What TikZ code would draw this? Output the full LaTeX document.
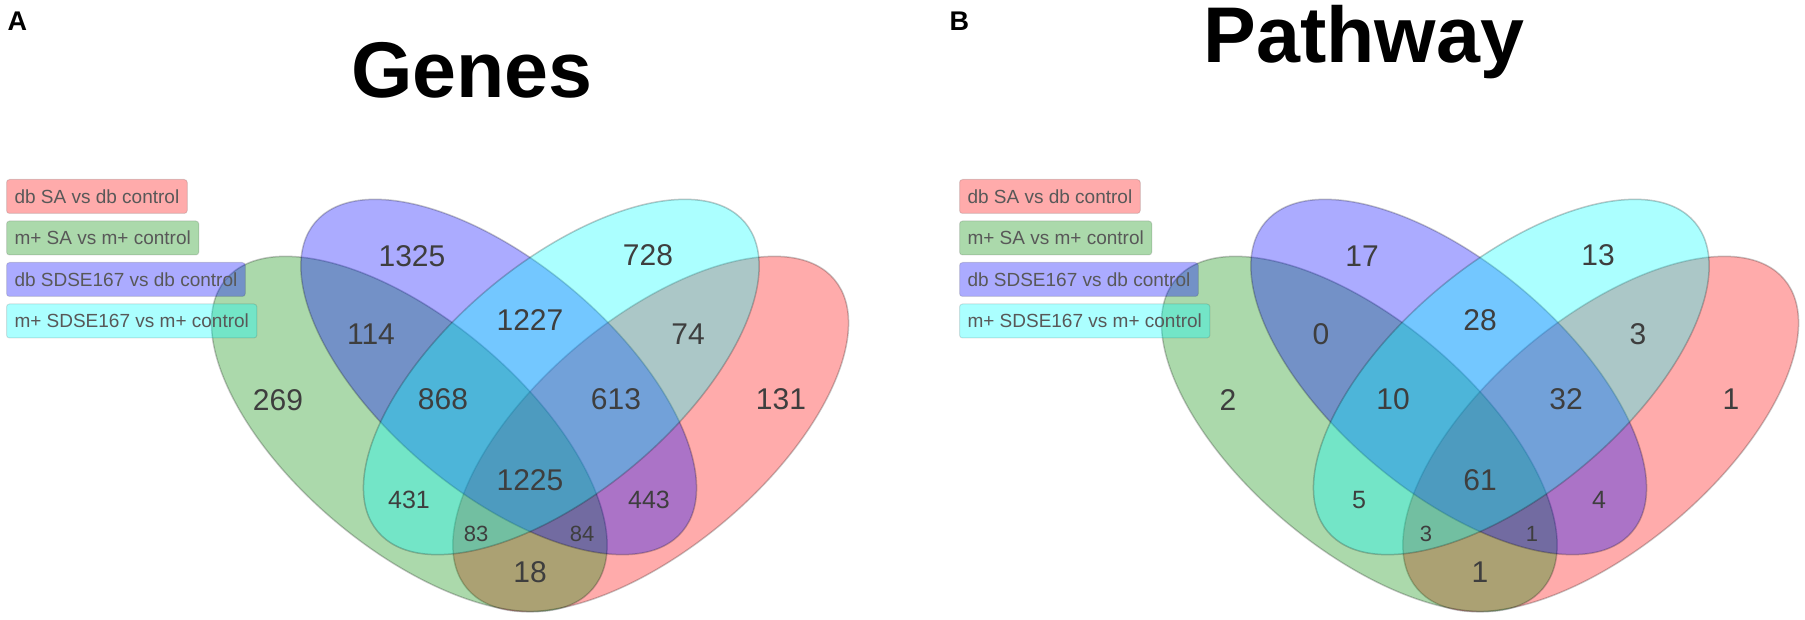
\documentclass[tikz,border=0pt]{standalone}
\usepackage{fontspec}
\setmainfont{Liberation Sans}
\usepackage{tikz}
\usetikzlibrary{
  positioning,
}
\tikzstyle{venn} = [
  fill opacity=0.33,
  draw=black,
  draw opacity=0.22,
  line width=1.5pt,
]
\tikzstyle{vcount} = [
  text=labelgray,
  font=\fontsize{30}{32}\selectfont,
]
\tikzstyle{vmidcount} = [
  text=labelgray,
  font=\fontsize{25}{27}\selectfont,
]
\tikzstyle{vsmallcount} = [
  text=labelgray,
  font=\fontsize{22}{24}\selectfont,
]
\tikzstyle{legendbox} = [
  rectangle,
  rounded corners=3pt,
  draw=black,
  draw opacity=0.12,
  line width=1pt,
  fill opacity=0.33,
  text opacity=1,
  minimum height=34pt,
  inner xsep=8pt,
  text=legendgray,
  font=\fontsize{19}{21}\selectfont,
]
\tikzstyle{vtitle} = [
  anchor=base,
  font=\fontsize{79}{84}\selectfont\bfseries,
]
\tikzstyle{panellabel} = [
  anchor=base west,
  font=\fontsize{27}{29}\selectfont\bfseries,
]
\definecolor{vennred}{RGB}{255, 0, 0}
\definecolor{venngreen}{RGB}{0, 139, 0}
\definecolor{vennblue}{RGB}{0, 0, 255}
\definecolor{venncyan}{RGB}{0, 255, 255}
\definecolor{labelgray}{RGB}{62, 62, 62}
\definecolor{legendgray}{RGB}{88, 88, 88}

\begin{document}
\begin{tikzpicture}[x=1pt, y=1pt]
      \useasboundingbox (0,0) rectangle (1805,619);

      % A -- genes
      \draw[venn, fill=vennred, rotate around={40.1:(650.7,185)}] (650.7,185) ellipse (240 and 114.4);
      \draw[venn, fill=venngreen, rotate around={-40.1:(409.3,185)}] (409.3,185) ellipse (240 and 114.4);
      \draw[venn, fill=vennblue, rotate around={-40.1:(498.7,242)}] (498.7,242) ellipse (240 and 114.4);
      \draw[venn, fill=venncyan, rotate around={40.1:(561.3,242)}] (561.3,242) ellipse (240 and 114.4);

      \node[vcount] (gA1) at (412,363) {1325};
      \node[vcount] (gA2) at (648,364) {728};
      \node[vcount] (gA3) at (371,285) {114};
      \node[vcount] (gA4) at (530,299) {1227};
      \node[vcount] (gA5) at (688,285) {74};
      \node[vcount] (gA6) at (278,219) {269};
      \node[vcount] (gA7) at (443,220) {868};
      \node[vcount] (gA8) at (616,220) {613};
      \node[vcount] (gA9) at (781,220) {131};
      \node[vcount] (gA10) at (530,139) {1225};
      \node[vmidcount] (gA11) at (409,119) {431};
      \node[vmidcount] (gA12) at (649,119) {443};
      \node[vsmallcount] (gA13) at (476,85) {83};
      \node[vsmallcount] (gA14) at (582,85) {84};
      \node[vcount] (gA15) at (530,47) {18};

      \node[legendbox, fill=vennred, anchor=north west] (lgA1) at (6,440) {db SA vs db control};
      \node[legendbox, fill=venngreen, below=6.5pt of lgA1.south west, anchor=north west] (lgA2) {m+ SA vs m+ control};
      \node[legendbox, fill=vennblue, below=6.5pt of lgA2.south west, anchor=north west] (lgA3) {db SDSE167 vs db control};
      \node[legendbox, fill=venncyan, below=6.5pt of lgA3.south west, anchor=north west] (lgA4) {m+ SDSE167 vs m+ control};

      \node[vtitle] (tA) at (472,521) {Genes};
      \node[panellabel] (pA) at (4,588) {A};

      % B -- pathway
      \begin{scope}[xshift=950pt]
      \draw[venn, fill=vennred, rotate around={40.1:(650.7,185)}] (650.7,185) ellipse (240 and 114.4);
      \draw[venn, fill=venngreen, rotate around={-40.1:(409.3,185)}] (409.3,185) ellipse (240 and 114.4);
      \draw[venn, fill=vennblue, rotate around={-40.1:(498.7,242)}] (498.7,242) ellipse (240 and 114.4);
      \draw[venn, fill=venncyan, rotate around={40.1:(561.3,242)}] (561.3,242) ellipse (240 and 114.4);

      \node[vcount] (gB1) at (412,363) {17};
      \node[vcount] (gB2) at (648,364) {13};
      \node[vcount] (gB3) at (371,285) {0};
      \node[vcount] (gB4) at (530,299) {28};
      \node[vcount] (gB5) at (688,285) {3};
      \node[vcount] (gB6) at (278,219) {2};
      \node[vcount] (gB7) at (443,220) {10};
      \node[vcount] (gB8) at (616,220) {32};
      \node[vcount] (gB9) at (781,220) {1};
      \node[vcount] (gB10) at (530,139) {61};
      \node[vmidcount] (gB11) at (409,119) {5};
      \node[vmidcount] (gB12) at (649,119) {4};
      \node[vsmallcount] (gB13) at (476,85) {3};
      \node[vsmallcount] (gB14) at (582,85) {1};
      \node[vcount] (gB15) at (530,47) {1};

      \node[legendbox, fill=vennred, anchor=north west] (lgB1) at (9,440) {db SA vs db control};
      \node[legendbox, fill=venngreen, below=6.5pt of lgB1.south west, anchor=north west] (lgB2) {m+ SA vs m+ control};
      \node[legendbox, fill=vennblue, below=6.5pt of lgB2.south west, anchor=north west] (lgB3) {db SDSE167 vs db control};
      \node[legendbox, fill=venncyan, below=6.5pt of lgB3.south west, anchor=north west] (lgB4) {m+ SDSE167 vs m+ control};

      \node[vtitle] (tB) at (414,556) {Pathway};
      \node[panellabel] (pB) at (-4,588) {B};
      \end{scope}
\end{tikzpicture}
\end{document}
